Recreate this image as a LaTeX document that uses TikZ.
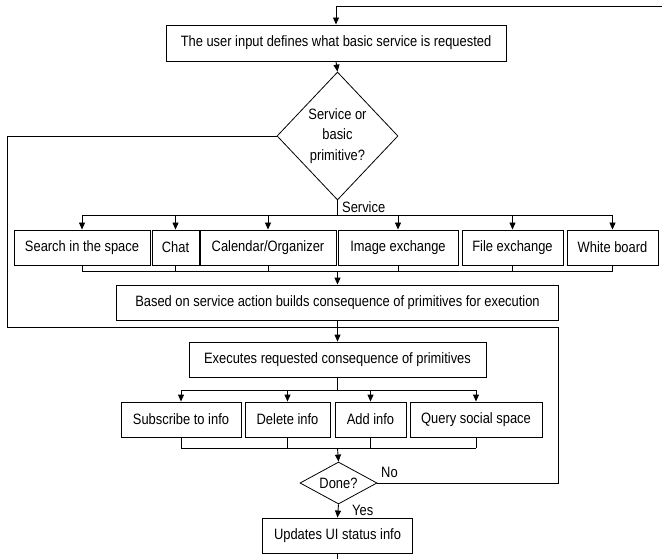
\documentclass[tikz,border=0pt]{standalone}
\usepackage{fontspec}
\setmainfont{Liberation Sans}[FakeStretch=0.86]
\usetikzlibrary{arrows.meta,shapes.geometric}
\begin{document}
\begin{tikzpicture}[x=1pt,y=-1pt,
  font=\fontsize{15}{17}\selectfont,
  box/.style={draw,line width=0.9pt,inner sep=0pt,minimum height=35pt,anchor=center},
  decision/.style={draw,diamond,line width=0.8pt,inner sep=0pt,align=center},
  link/.style={line width=0.9pt},
  arr/.style={link,-{Triangle[length=7pt,width=6pt]}},
  tag/.style={inner sep=0pt,anchor=west}]
\useasboundingbox (0,0) rectangle (662,559);

% request and service/primitive decision
\node[box,minimum width=340pt,minimum height=36pt] (req) at (336,43)
  {The user input defines what basic service is requested};
\node[decision,minimum width=121pt,minimum height=128pt,
      font=\fontsize{15}{20.5}\selectfont] (kind) at (337.5,136)
  {Service or\\basic\\primitive?};

% services
\node[box,minimum width=136pt] (search) at (82,247.5)  {Search in the space};
\node[box,minimum width=47pt]  (chat)   at (175.5,247.5) {Chat};
\node[box,minimum width=136pt] (cal)    at (268,247.5) {Calendar/Organizer};
\node[box,minimum width=120pt] (img)    at (398,247.5) {Image exchange};
\node[box,minimum width=101pt] (file)   at (512.5,247.5) {File exchange};
\node[box,minimum width=91pt]  (white)  at (612.5,247.5) {White board};

\node[box,minimum width=442pt] (build) at (337.5,302.5)
  {Based on service action builds consequence of primitives for execution};
\node[box,minimum width=297pt] (exec) at (337.5,359.5)
  {Executes requested consequence of primitives};

% primitives
\node[box,minimum width=120pt] (sub)   at (181,419.5) {Subscribe to info};
\node[box,minimum width=85pt]  (del)   at (287.5,419.5) {Delete info};
\node[box,minimum width=71pt]  (add)   at (370.5,419.5) {Add info};
\node[box,minimum width=132pt] (query) at (476,419.5) {Query social space};

\node[decision,shape aspect=2.5,minimum width=77pt,minimum height=42pt] (done) at (338.5,483) {Done?};
\node[box,minimum width=150pt] (upd) at (337.5,535.5) {Updates UI status info};

% junction points
\coordinate (tr) at (662,6);
\coordinate (b1) at (337.5,215);
\coordinate (b2) at (337.5,271);
\coordinate (m)  at (337.5,327);
\coordinate (lc) at (7,327);
\coordinate (nr) at (558,327);
\coordinate (f)  at (337.5,390);
\coordinate (j)  at (337.5,448);
\coordinate (bot) at (337.5,559);

% loop back into the request box
\draw[arr] (tr) -- (tr -| req.north) -- (req.north);
\draw[arr] (req.south) -- (kind.north);

% service branch
\draw[link] (kind.south) -- (b1);
\draw[link] (search.north |- b1) -- (white.north |- b1);
\foreach \n in {search,chat,cal,img,file,white}
  \draw[arr] (\n.north |- b1) -- (\n.north);
\draw[link] (search.south |- b2) -- (white.south |- b2);
\foreach \n in {search,chat,cal,img,file,white}
  \draw[link] (\n.south) -- (\n.south |- b2);
\draw[arr] (b2) -- (build.north);

% primitive branch and the merge above execution
\draw[link] (kind.west) -| (lc) -- (m);
\draw[arr] (build.south) -- (exec.north);

% primitive fan-out and join
\draw[link] (exec.south) -- (f);
\draw[link] (sub.north |- f) -- (query.north |- f);
\foreach \n in {sub,del,add,query}
  \draw[arr] (\n.north |- f) -- (\n.north);
\foreach \n in {sub,del,add,query}
  \draw[link] (\n.south) -- (\n.south |- j);
\draw[link] (sub.south |- j) -- (query.south |- j);
\draw[arr] (j) -- (done.north);

% done decision
\draw[link] (done.east) -| (nr) -- (m);
\draw[arr] (done.south) -- (upd.north);
\draw[link] (upd.south) -- (bot);

% branch labels
\node[tag] (lsvc) at (342,207) {Service};
\node[tag] (lno)  at (381,472) {No};
\node[tag] (lyes) at (352,510) {Yes};
\end{tikzpicture}
\end{document}
